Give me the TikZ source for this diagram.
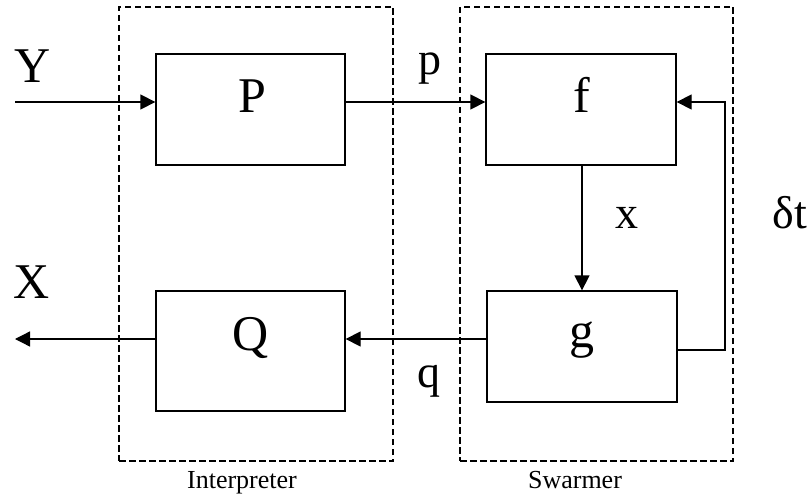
\documentclass[tikz,border=0pt]{standalone}
\usepackage{fontspec}
\setmainfont{Liberation Serif}
\usetikzlibrary{arrows.meta}
\begin{document}
\begin{tikzpicture}[x=1pt,y=-1pt,
  blk/.style={draw,line width=1.3pt,rectangle,inner sep=0pt},
  grp/.style={draw,line width=1.2pt,dash pattern=on 6.5pt off 3.5pt,rectangle,inner sep=0pt},
  conn/.style={line width=1.3pt},
  arr/.style={conn,-{Triangle[length=15pt,width=15pt]}},
  big/.style={font=\fontsize{50}{50}\selectfont,anchor=base,inner sep=0pt},
  mid/.style={font=\fontsize{46}{46}\selectfont,anchor=base,inner sep=0pt},
  small/.style={font=\fontsize{26}{26}\selectfont,anchor=base,inner sep=0pt}]
\useasboundingbox (0,0) rectangle (810,497);
% group boxes
\node[grp,minimum width=274pt,minimum height=454pt] (interp) at (256,234) {};
\node[grp,minimum width=273pt,minimum height=454pt] (swarm) at (596.5,234) {};
\node[small] (interplbl) at (242,488) {Interpreter};
\node[small] (swarmlbl) at (575,488) {Swarmer};
% blocks
\node[blk,minimum width=189pt,minimum height=111pt] (P) at (250.5,109.5) {};
\node[blk,minimum width=190pt,minimum height=111pt] (f) at (581,109.5) {};
\node[blk,minimum width=189pt,minimum height=120pt] (Q) at (250.5,351) {};
\node[blk,minimum width=190pt,minimum height=111pt] (g) at (582,346.5) {};
\node[big] (Plbl) at (252,113) {P};
\node[big] (flbl) at (582,113) {f};
\node[big] (Qlbl) at (251,350) {Q};
\node[big] (glbl) at (582,347) {g};
% outside labels
\node[big] (Ylbl) at (33,83) {Y};
\node[big] (Xlbl) at (32,298) {X};
\node[mid] (plbl) at (430,75) {p};
\node[mid] (qlbl) at (429,387) {q};
\node[mid] (xlbl) at (627,228) {x};
\node[mid] (dtlbl) at (790,228) {δt};
% coordinates
\coordinate (yin) at (15,102);
\coordinate (xout) at (15,339);
\coordinate (fbr) at (725,350);
\coordinate (fbt) at (725,102);
% connectors
\draw[arr] (yin) -- (yin -| P.west);
\draw[arr] (P.east |- yin) -- (f.west |- yin);
\draw[arr] (f.south -| 582,0) -- (g.north -| 582,0);
\draw[arr] (g.west |- xout) -- (Q.east |- xout);
\draw[arr] (Q.west |- xout) -- (xout);
\draw[arr] (g.east |- fbr) -- (fbr) -- (fbt) -- (f.east |- fbt);
\end{tikzpicture}
\end{document}
